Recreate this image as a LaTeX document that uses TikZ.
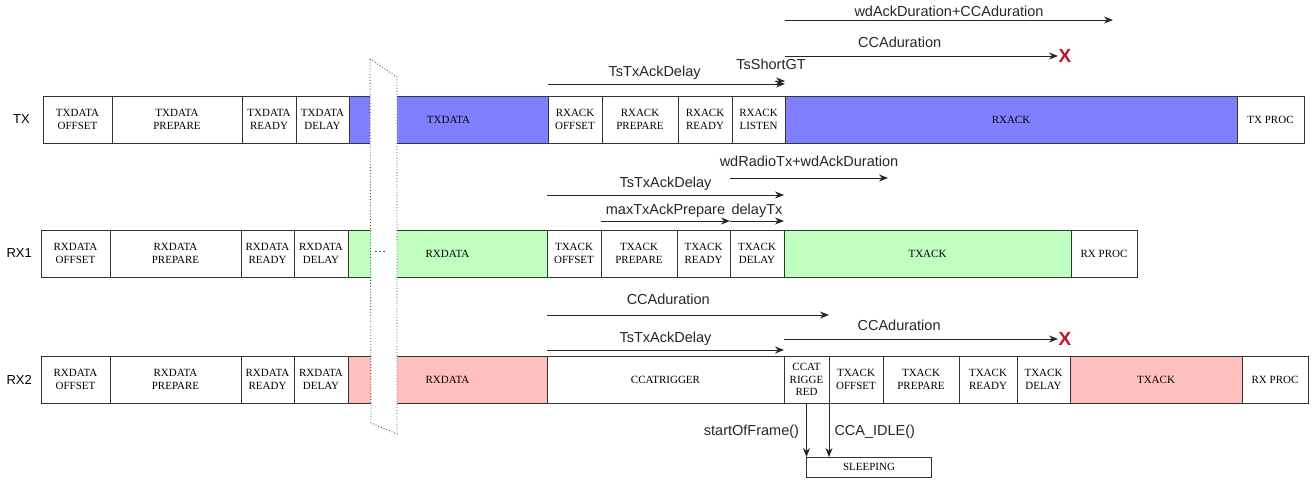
\documentclass[tikz,border=0pt]{standalone}
\usepackage{fontspec}
\setmainfont{Liberation Serif}
\setsansfont{Liberation Sans}
\usetikzlibrary{positioning,arrows.meta}

\definecolor{txblue}{RGB}{128,128,255}
\definecolor{rxgreen}{RGB}{191,255,191}
\definecolor{rxpink}{RGB}{255,191,191}
\definecolor{failred}{RGB}{200,16,46}

\begin{document}
\begin{tikzpicture}[
x=1pt, y=-1pt,
cell/.style={draw=black!80, line width=0.9pt, minimum height=47pt, inner sep=1pt, outer sep=0pt, align=center, font=\fontsize{11}{12.8}\selectfont},
rowlbl/.style={font=\sffamily\fontsize{13}{14}\selectfont, inner sep=0pt},
arrow/.style={-{Stealth[length=9pt,width=7pt]}, line width=1pt, black!85},
lbl/.style={font=\sffamily\fontsize{14.5}{16}\selectfont, inner sep=0pt, text depth=0pt},
xmark/.style={font=\sffamily\bfseries\fontsize{19}{20}\selectfont, text=failred, inner sep=0pt},
brk/.style={fill=white, draw=black!70, dotted, line width=0.9pt}
]
\useasboundingbox (0,0) rectangle (1314,480);

% TX row
\node[cell, minimum width=69pt, anchor=west] (txoff) at (43,119.5) {TXDATA\\OFFSET};
\node[cell, minimum width=130pt, right=0pt of txoff] (txprep) {TXDATA\\PREPARE};
\node[cell, minimum width=54pt, right=0pt of txprep] (txready) {TXDATA\\READY};
\node[cell, minimum width=53pt, right=0pt of txready] (txdelay) {TXDATA\\DELAY};
\node[cell, minimum width=199pt, fill=txblue, right=0pt of txdelay] (txdata) {TXDATA};
\node[cell, minimum width=54pt, right=0pt of txdata] (rxaoff) {RXACK\\OFFSET};
\node[cell, minimum width=76pt, right=0pt of rxaoff] (rxaprep) {RXACK\\PREPARE};
\node[cell, minimum width=54pt, right=0pt of rxaprep] (rxaready) {RXACK\\READY};
\node[cell, minimum width=53pt, right=0pt of rxaready] (rxalisten) {RXACK\\LISTEN};
\node[cell, minimum width=452pt, fill=txblue, right=0pt of rxalisten] (rxack) {RXACK};
\node[cell, minimum width=67pt, right=0pt of rxack] (txproc) {TX PROC};
\node[rowlbl, left=13pt of txoff] (tx) {TX};

% RX1 row
\node[cell, minimum width=69pt, anchor=west] (rx1off) at (41,253.5) {RXDATA\\OFFSET};
\node[cell, minimum width=131pt, right=0pt of rx1off] (rx1prep) {RXDATA\\PREPARE};
\node[cell, minimum width=53pt, right=0pt of rx1prep] (rx1ready) {RXDATA\\READY};
\node[cell, minimum width=54pt, right=0pt of rx1ready] (rx1delay) {RXDATA\\DELAY};
\node[cell, minimum width=199pt, fill=rxgreen, right=0pt of rx1delay] (rx1data) {RXDATA};
\node[cell, minimum width=54pt, right=0pt of rx1data] (txaoff1) {TXACK\\OFFSET};
\node[cell, minimum width=76pt, right=0pt of txaoff1] (txaprep1) {TXACK\\PREPARE};
\node[cell, minimum width=53pt, right=0pt of txaprep1] (txaready1) {TXACK\\READY};
\node[cell, minimum width=54pt, right=0pt of txaready1] (txadelay1) {TXACK\\DELAY};
\node[cell, minimum width=287pt, fill=rxgreen, right=0pt of txadelay1] (txack1) {TXACK};
\node[cell, minimum width=66pt, right=0pt of txack1] (rxproc1) {RX PROC};
\node[rowlbl, left=9pt of rx1off] (rx1) {RX1};

% RX2 row
\node[cell, minimum width=69pt, anchor=west] (rx2off) at (41,379.5) {RXDATA\\OFFSET};
\node[cell, minimum width=131pt, right=0pt of rx2off] (rx2prep) {RXDATA\\PREPARE};
\node[cell, minimum width=53pt, right=0pt of rx2prep] (rx2ready) {RXDATA\\READY};
\node[cell, minimum width=54pt, right=0pt of rx2ready] (rx2delay) {RXDATA\\DELAY};
\node[cell, minimum width=199pt, fill=rxpink, right=0pt of rx2delay] (rx2data) {RXDATA};
\node[cell, minimum width=237pt, right=0pt of rx2data] (ccatrig) {CCATRIGGER};
\node[cell, minimum width=45pt, right=0pt of ccatrig] (ccatrigd) {CCAT\\RIGGE\\RED};
\node[cell, minimum width=54pt, right=0pt of ccatrigd] (txaoff2) {TXACK\\OFFSET};
\node[cell, minimum width=76pt, right=0pt of txaoff2] (txaprep2) {TXACK\\PREPARE};
\node[cell, minimum width=58pt, right=0pt of txaprep2] (txaready2) {TXACK\\READY};
\node[cell, minimum width=53pt, right=0pt of txaready2] (txadelay2) {TXACK\\DELAY};
\node[cell, minimum width=172pt, fill=rxpink, right=0pt of txadelay2] (txack2) {TXACK};
\node[cell, minimum width=66pt, right=0pt of txack2] (rxproc2) {RX PROC};
\node[rowlbl, left=9pt of rx2off] (rx2) {RX2};

\node[cell, minimum width=125pt, minimum height=20pt, anchor=north west] (sleep) at ([yshift=-54pt]ccatrigd.south) {SLEEPING};

% break in the time axis
\draw[brk] (370,59) -- (397,77) -- (397,434) -- (371,423) -- cycle;
\node[font=\fontsize{12}{12}\selectfont, inner sep=0pt] (gapdots) at (380,252) {\dots};

% free arrow ends
\coordinate (wdend) at (1113,20);
\coordinate (ccaendA) at (1058,56);
\coordinate (ccaendB) at (1058,339);
\coordinate (wdrend) at (888,178);
\coordinate (gtstart) at (775,81);

% TX timings
\draw[arrow] (rxack.west |- 0,20) -- node[lbl, midway, above=3pt] {wdAckDuration+CCAduration} (wdend);
\draw[arrow] (rxack.west |- 0,56) -- node[lbl, pos=0.42, above=8pt] {CCAduration} (ccaendA) node[xmark, right=0pt] (failA) {X};
\draw[arrow] (rxaoff.west |- 0,84) -- node[lbl, pos=0.45, above=7pt] {TsTxAckDelay} (rxalisten.east |- 0,84);
\draw[arrow] (gtstart) -- node[lbl, midway, above=11pt, xshift=-9pt] {TsShortGT} (rxalisten.east |- 0,81);

% RX1 timings
\draw[arrow] (txadelay1.west |- 0,178) -- node[lbl, midway, above=11pt] {wdRadioTx+wdAckDuration} (wdrend);
\draw[arrow] (txaoff1.west |- 0,195) -- node[lbl, midway, above=7pt] {TsTxAckDelay} (txadelay1.east |- 0,195);
\draw[arrow] (txaprep1.west |- 0,221) -- node[lbl, midway, above=6pt] {maxTxAckPrepare} (txaready1.east |- 0,221);
\draw[arrow] (txadelay1.west |- 0,221) -- node[lbl, midway, above=6pt] {delayTx} (txadelay1.east |- 0,221);

% RX2 timings
\draw[arrow] (ccatrig.west |- 0,315) -- node[lbl, pos=0.43, above=10pt] {CCAduration} (ccatrigd.east |- 0,315);
\draw[arrow] (ccatrig.west |- 0,350) -- node[lbl, midway, above=7pt] {TsTxAckDelay} (ccatrig.east |- 0,350);
\draw[arrow] (ccatrigd.west |- 0,339) -- node[lbl, pos=0.42, above=8pt] {CCAduration} (ccaendB) node[xmark, right=0pt] (failB) {X};

% events into SLEEPING
\draw[arrow] (ccatrigd.south) -- node[lbl, pos=0.5, left=7pt] {startOfFrame()} (ccatrigd.south |- sleep.north);
\draw[arrow] (ccatrigd.south east) -- node[lbl, pos=0.5, right=5pt] {CCA\_IDLE()} (ccatrigd.south east |- sleep.north);
\end{tikzpicture}
\end{document}
